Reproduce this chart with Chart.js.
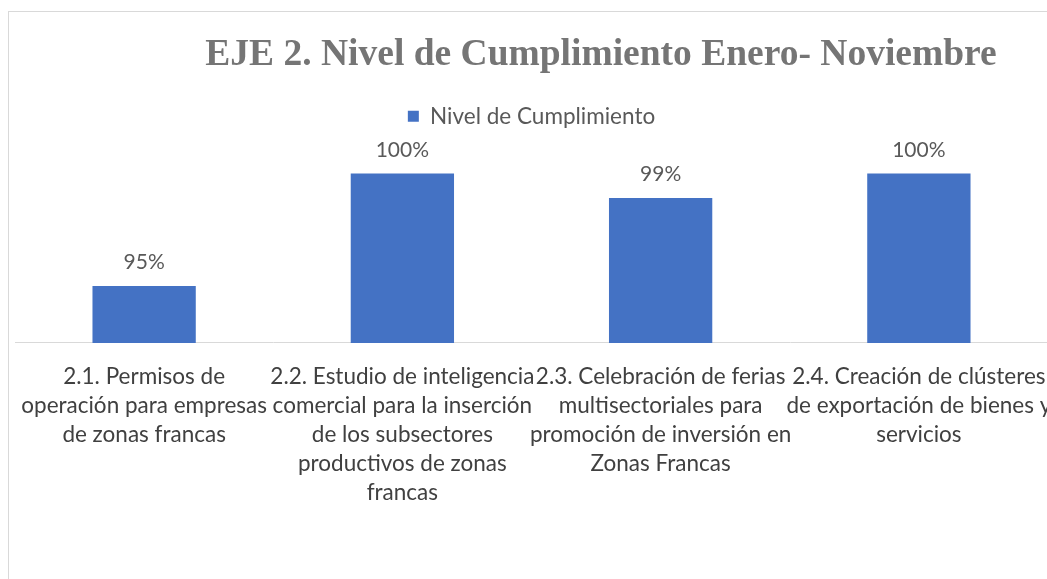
<!DOCTYPE html>
<html>
<head>
<meta charset="utf-8">
<script src="https://cdn.jsdelivr.net/npm/chart.js@4/dist/chart.umd.min.js"></script>
<style>
  html, body { margin: 0; padding: 0; background: #fff; overflow: hidden; width: 1047px; height: 579px; }
  #frame { position: absolute; left: 8px; top: 11px; width: 1200px; height: 620px;
           border-left: 1px solid #d9d9d9; border-top: 1px solid #d9d9d9; }
  #chart { position: absolute; left: 0; top: 0; }
</style>
</head>
<body>
<div id="frame"><canvas id="chart" width="1178" height="600"></canvas></div>
<script>
const categories = [
  ['2.1. Permisos de', 'operación para empresas', 'de zonas francas'],
  ['2.2. Estudio de inteligencia', 'comercial para la inserción', 'de los subsectores', 'productivos de zonas', 'francas'],
  ['2.3. Celebración de ferias', 'multisectoriales para', 'promoción de inversión en', 'Zonas Francas'],
  ['2.4. Creación de clústeres', 'de exportación de bienes y', 'servicios']
];
const cumplimiento = [95.4, 100, 99, 100];
const seriesName = 'Nivel de Cumplimiento';
const chartTitle = 'EJE 2. Nivel de Cumplimiento Enero- Noviembre';

const labelFont = 'Lato';

// value labels above each bar
const barLabels = {
  id: 'barLabels',
  afterDatasetsDraw(chart) {
    const ctx = chart.ctx;
    ctx.save();
    ctx.font = '21px ' + labelFont;
    ctx.fillStyle = '#595959';
    ctx.textAlign = 'center';
    ctx.textBaseline = 'alphabetic';
    chart.getDatasetMeta(0).data.forEach((bar, i) => {
      ctx.fillText(Math.round(cumplimiento[i]) + '%', bar.x, bar.y - 17);
    });
    ctx.restore();
  }
};

new Chart(document.getElementById('chart'), {
  type: 'bar',
  data: {
    labels: categories,
    datasets: [{
      label: seriesName,
      data: cumplimiento,
      backgroundColor: '#4472c4',
      borderWidth: 0,
      categoryPercentage: 1,
      barPercentage: 0.4
    }]
  },
  options: {
    responsive: false,
    devicePixelRatio: 1,
    animation: false,
    layout: { padding: { left: 6, right: 0, top: 0, bottom: 94 } },
    plugins: {
      title: {
        display: true,
        text: chartTitle,
        color: '#757575',
        font: { family: 'Liberation Serif', size: 37.5, weight: 'bold' },
        padding: { top: 21, bottom: 17 }
      },
      legend: {
        fullSize: false,
        labels: {
          boxWidth: 11,
          boxHeight: 11,
          color: '#595959',
          font: { family: labelFont, size: 22.5 }
        }
      },
      tooltip: { enabled: false }
    },
    scales: {
      x: {
        grid: { display: false },
        border: { display: true, color: '#d9d9d9', width: 1 },
        ticks: {
          color: '#404040',
          font: { family: labelFont, size: 22.5, lineHeight: 1.289 },
          padding: 11,
          maxRotation: 0,
          minRotation: 0,
          autoSkip: false
        }
      },
      y: {
        display: false,
        min: 93.07,
        max: 101.475
      },
      pad: {
        type: 'linear',
        position: 'right',
        grid: { display: false },
        border: { display: false },
        ticks: { display: false },
        afterFit(scale) { scale.width = 139; }
      }
    }
  },
  plugins: [barLabels]
});
</script>
</body>
</html>
